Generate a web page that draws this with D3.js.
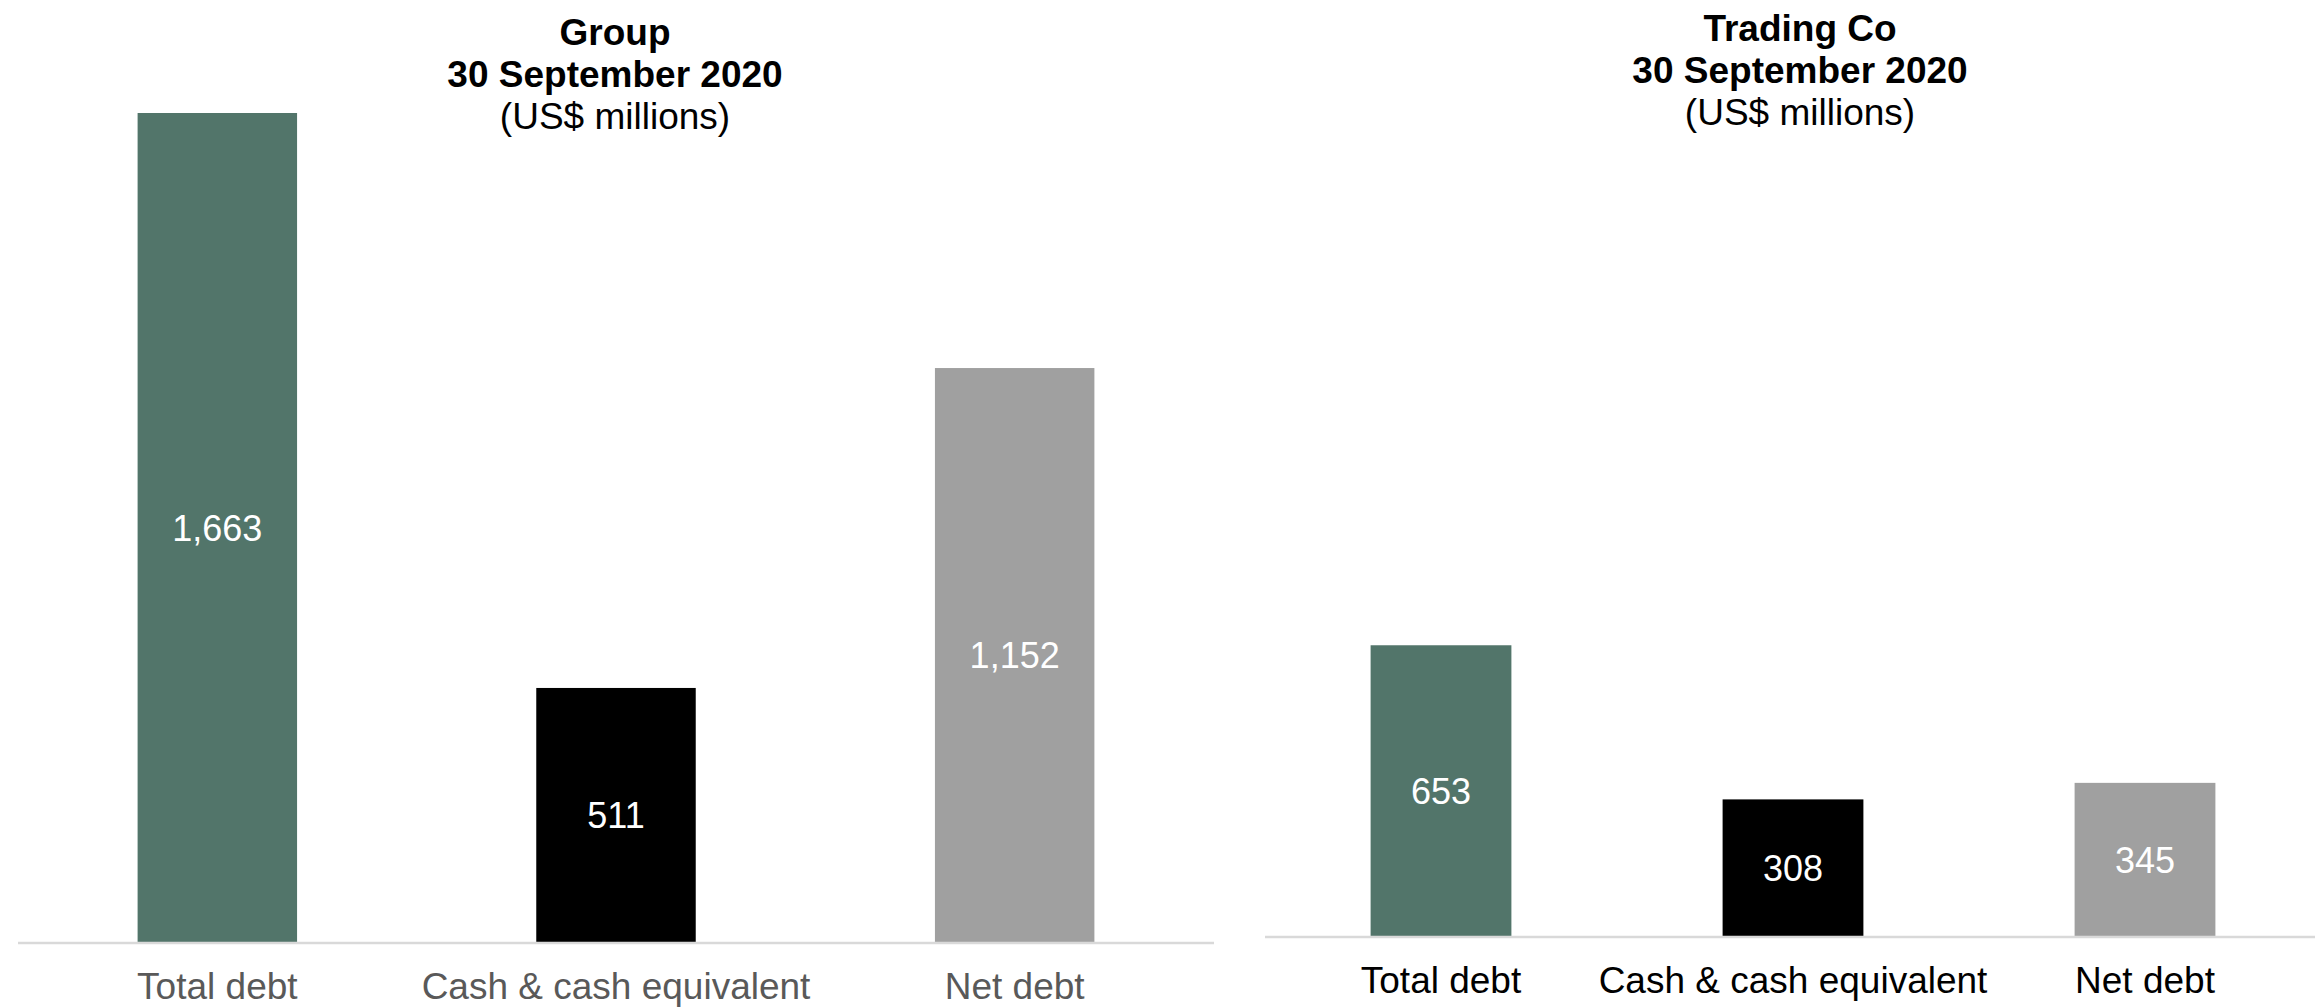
<!DOCTYPE html>
<html>
<head>
<meta charset="utf-8">
<style>
body { margin: 0; background: #fff; }
svg { display: block; font-family: "Liberation Sans", Arial, sans-serif; }
.axis .domain { stroke: #d9d9d9; stroke-width: 2.5; }
.axis line { display: none; }
</style>
</head>
<body>
<svg width="2315" height="1007"></svg>
<script src="https://cdn.jsdelivr.net/npm/d3@7"></script>
<script>
var categories = ["Total debt", "Cash & cash equivalent", "Net debt"];
var groupValues = [1663, 511, 1152];
var tradingValues = [653, 308, 345];
var groupTitle = ["Group", "30 September 2020", "(US$ millions)"];
var tradingTitle = ["Trading Co", "30 September 2020", "(US$ millions)"];

var colors = ["#52756a", "#000000", "#a0a0a0"];

var svg = d3.select("svg");

function drawChart(opts) {
  var g = svg.append("g");

  var x = d3.scaleBand()
      .domain(categories)
      .range([opts.left, opts.right])
      .paddingInner(0.6)
      .paddingOuter(0.3);

  var y = d3.scaleLinear()
      .domain([0, opts.yMax])
      .range([opts.base, opts.top]);

  var data = categories.map(function(c, i) { return {name: c, value: opts.values[i], color: colors[i]}; });

  g.selectAll("rect")
    .data(data)
    .enter().append("rect")
      .attr("x", function(d) { return x(d.name); })
      .attr("width", x.bandwidth())
      .attr("y", function(d) { return y(d.value); })
      .attr("height", function(d) { return y(0) - y(d.value); })
      .attr("fill", function(d) { return d.color; });

  g.selectAll(".value")
    .data(data)
    .enter().append("text")
      .attr("class", "value")
      .attr("x", function(d) { return x(d.name) + x.bandwidth() / 2; })
      .attr("y", function(d) { return (y(0) + y(d.value)) / 2; })
      .attr("dy", "0.35em")
      .attr("text-anchor", "middle")
      .attr("fill", "#fff")
      .attr("font-size", 36)
      .text(function(d) { return d3.format(",")(d.value); });

  var axis = g.append("g")
      .attr("class", "axis")
      .attr("transform", "translate(0," + opts.base + ")")
      .call(d3.axisBottom(x).tickSize(0).tickPadding(30));

  axis.select(".domain")
      .attr("d", "M" + opts.left + ",0H" + opts.lineEnd);

  axis.selectAll("text")
      .attr("font-size", 37)
      .attr("font-family", "Liberation Sans, Arial, sans-serif")
      .attr("fill", opts.labelColor);

  g.selectAll(".title")
    .data(opts.title)
    .enter().append("text")
      .attr("class", "title")
      .attr("x", opts.titleX)
      .attr("y", function(d, i) { return opts.titleY + i * 42; })
      .attr("text-anchor", "middle")
      .attr("font-size", 37)
      .attr("font-weight", function(d, i) { return i < 2 ? "bold" : "normal"; })
      .attr("fill", "#000")
      .text(function(d) { return d; });
}

drawChart({
  values: groupValues,
  title: groupTitle,
  left: 18, right: 1214, lineEnd: 1214,
  base: 943, top: 113,
  yMax: d3.max(groupValues),
  labelColor: "#595959",
  titleX: 615, titleY: 45
});

drawChart({
  values: tradingValues,
  title: tradingTitle,
  left: 1265, right: 2321, lineEnd: 2315,
  base: 937, top: 106,
  yMax: 1860,
  labelColor: "#000",
  titleX: 1800, titleY: 41
});
</script>
</body>
</html>
